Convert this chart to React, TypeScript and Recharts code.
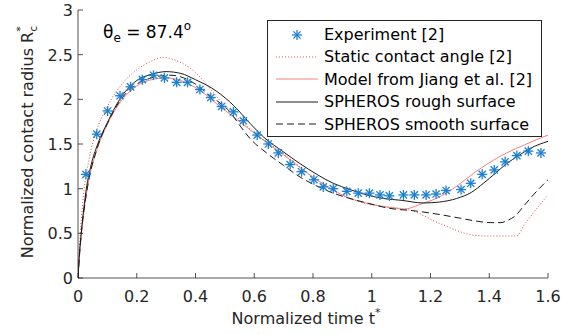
import React from 'react';
import { ComposedChart, Line, Scatter, XAxis, YAxis, Legend } from 'recharts';

const xTicks = [0, 0.2, 0.4, 0.6, 0.8, 1, 1.2, 1.4, 1.6];
const yTicks = [0, 0.5, 1, 1.5, 2, 2.5, 3];

const expT = [0.027, 0.064, 0.101, 0.143, 0.179, 0.219, 0.257, 0.294, 0.336, 0.373, 0.415, 0.452, 0.489, 0.529, 0.563, 0.61, 0.648, 0.682, 0.722, 0.761, 0.803, 0.835, 0.869, 0.915, 0.954, 0.992, 1.028, 1.06, 1.108, 1.145, 1.185, 1.219, 1.253, 1.304, 1.337, 1.376, 1.417, 1.454, 1.494, 1.533, 1.576];
const expR = [1.16, 1.61, 1.87, 2.04, 2.14, 2.22, 2.27, 2.24, 2.19, 2.19, 2.11, 2.02, 1.92, 1.86, 1.76, 1.6, 1.5, 1.4, 1.27, 1.19, 1.1, 1.02, 1.0, 0.97, 0.95, 0.95, 0.93, 0.92, 0.93, 0.93, 0.93, 0.94, 0.98, 0.99, 1.06, 1.16, 1.21, 1.3, 1.37, 1.42, 1.4];

const staticT = [0, 0.005, 0.015, 0.037, 0.06, 0.1, 0.157, 0.2, 0.245, 0.29, 0.33, 0.381, 0.43, 0.472, 0.529, 0.6, 0.7, 0.813, 0.926, 1.039, 1.096, 1.13, 1.232, 1.346, 1.4, 1.493, 1.52, 1.56, 1.6];
const staticR = [0, 0.35, 0.8, 1.32, 1.62, 1.92, 2.2, 2.33, 2.42, 2.47, 2.44, 2.35, 2.2, 2.03, 1.84, 1.63, 1.39, 1.1, 0.89, 0.8, 0.78, 0.76, 0.61, 0.48, 0.47, 0.47, 0.6, 0.77, 0.93];

const modelT = [0, 0.005, 0.01, 0.03, 0.066, 0.1, 0.14, 0.2, 0.25, 0.3, 0.35, 0.415, 0.483, 0.551, 0.608, 0.699, 0.813, 0.926, 0.98, 1.039, 1.085, 1.107, 1.17, 1.232, 1.29, 1.346, 1.4, 1.459, 1.52, 1.561, 1.6];
const modelR = [0, 0.25, 0.45, 0.97, 1.45, 1.72, 1.95, 2.15, 2.22, 2.24, 2.21, 2.1, 1.92, 1.75, 1.6, 1.38, 1.1, 0.89, 0.84, 0.8, 0.78, 0.77, 0.83, 0.91, 1.03, 1.17, 1.29, 1.4, 1.49, 1.55, 1.6];

const roughT = [0, 0.005, 0.011, 0.028, 0.045, 0.066, 0.1, 0.14, 0.2, 0.25, 0.3, 0.35, 0.4, 0.472, 0.53, 0.586, 0.631, 0.7, 0.756, 0.813, 0.869, 0.926, 0.983, 1.04, 1.1, 1.175, 1.23, 1.289, 1.34, 1.38, 1.42, 1.459, 1.5, 1.539, 1.6];
const roughR = [0, 0.28, 0.5, 0.99, 1.27, 1.49, 1.74, 1.99, 2.21, 2.28, 2.31, 2.29, 2.22, 2.09, 1.93, 1.73, 1.58, 1.41, 1.28, 1.16, 1.06, 0.99, 0.93, 0.89, 0.87, 0.84, 0.85, 0.89, 0.96, 1.06, 1.17, 1.28, 1.37, 1.45, 1.53];

const smoothT = [0, 0.005, 0.01, 0.03, 0.066, 0.1, 0.14, 0.2, 0.25, 0.313, 0.36, 0.4, 0.45, 0.517, 0.557, 0.586, 0.642, 0.7, 0.756, 0.813, 0.869, 0.926, 0.983, 1.06, 1.15, 1.232, 1.3, 1.35, 1.403, 1.44, 1.459, 1.49, 1.516, 1.55, 1.6];
const smoothR = [0, 0.25, 0.45, 0.97, 1.46, 1.73, 1.97, 2.17, 2.24, 2.27, 2.24, 2.17, 2.04, 1.86, 1.68, 1.56, 1.4, 1.26, 1.13, 1.03, 0.95, 0.89, 0.84, 0.78, 0.75, 0.71, 0.67, 0.64, 0.62, 0.62, 0.64, 0.7, 0.8, 0.93, 1.1];

const legendLabels = [
  'Experiment [2]',
  'Static contact angle [2]',
  'Model from Jiang et al. [2]',
  'SPHEROS rough surface',
  'SPHEROS smooth surface',
];

const zip = (ts: number[], rs: number[]) => ts.map((t, i) => ({ t, r: rs[i] }));

const expData = zip(expT, expR);
const staticData = zip(staticT, staticR);
const modelData = zip(modelT, modelR);
const roughData = zip(roughT, roughR);
const smoothData = zip(smoothT, smoothR);

const FONT = '"DejaVu Sans", sans-serif';
const AX = '#262626';
const BLUE = '#1a7fd0';
const STATIC_C = '#e24a4a';
const MODEL_C = '#f4807c';
const BLACK = '#1a1a1a';

const Asterisk = (props: any) => {
  const { cx, cy } = props;
  if (cx == null || cy == null) return null;
  const s = 5;
  const d = s * 0.72;
  return (
    <g stroke={BLUE} strokeWidth={1.3}>
      <line x1={cx - s} y1={cy} x2={cx + s} y2={cy} />
      <line x1={cx} y1={cy - s} x2={cx} y2={cy + s} />
      <line x1={cx - d} y1={cy - d} x2={cx + d} y2={cy + d} />
      <line x1={cx - d} y1={cy + d} x2={cx + d} y2={cy - d} />
    </g>
  );
};

const BottomTick = (props: any) => {
  const { x, y, payload } = props;
  return (
    <g>
      <line x1={x} y1={y} x2={x} y2={y - 5} stroke={AX} strokeWidth={0.8} />
      <text x={x} y={y + 24} textAnchor="middle" fontSize={16} fill={AX} fontFamily={FONT}>
        {String(payload.value)}
      </text>
    </g>
  );
};

const TopTick = (props: any) => {
  const { x, y } = props;
  return <line x1={x} y1={y} x2={x} y2={y + 5} stroke={AX} strokeWidth={0.8} />;
};

const LeftTick = (props: any) => {
  const { x, y, payload } = props;
  return (
    <g>
      <line x1={x} y1={y} x2={x + 5} y2={y} stroke={AX} strokeWidth={0.8} />
      <text x={x - 5} y={y + 6} textAnchor="end" fontSize={16} fill={AX} fontFamily={FONT}>
        {String(payload.value)}
      </text>
    </g>
  );
};

const RightTick = (props: any) => {
  const { x, y } = props;
  return <line x1={x} y1={y} x2={x - 5} y2={y} stroke={AX} strokeWidth={0.8} />;
};

const XLabel = () => (
  <text x={306} y={324} textAnchor="middle" fontSize={16} fill={AX} fontFamily={FONT}>
    Normalized time t
    <tspan fontSize={11} dy={-8}>*</tspan>
  </text>
);

const YLabel = () => (
  <text transform="rotate(-90)" x={-142} y={33} textAnchor="middle" fontSize={16} fill={AX} fontFamily={FONT}>
    Normalized contact radius R
    <tspan fontSize={11} dy={4}>c</tspan>
    <tspan fontSize={11} dx={-6} dy={-13}>*</tspan>
  </text>
);

const LegendSample = ({ i }: { i: number }) => {
  const y = 11;
  if (i === 0) {
    return (
      <svg width={48} height={22}>
        <Asterisk cx={23} cy={y} />
      </svg>
    );
  }
  const props: any = [
    null,
    { stroke: STATIC_C, strokeDasharray: '1 2' },
    { stroke: MODEL_C },
    { stroke: BLACK },
    { stroke: BLACK, strokeDasharray: '7 4' },
  ][i];
  return (
    <svg width={48} height={22}>
      <line x1={2} y1={y} x2={44} y2={y} strokeWidth={1} {...props} />
    </svg>
  );
};

const renderLegend = () => (
  <div
    style={{
      position: 'relative',
      width: 275,
      height: 117,
      border: `1px solid ${AX}`,
      background: '#fff',
      boxSizing: 'border-box',
      fontFamily: FONT,
      fontSize: 16,
      color: '#000',
    }}
  >
    {legendLabels.map((lab, i) => (
      <div
        key={lab}
        style={{
          position: 'absolute',
          left: 6,
          top: 2.5 + i * 22.4,
          height: 22,
          display: 'flex',
          alignItems: 'center',
          whiteSpace: 'nowrap',
        }}
      >
        <LegendSample i={i} />
        <span style={{ marginLeft: 2 }}>{lab}</span>
      </div>
    ))}
  </div>
);

export default function App() {
  return (
    <div style={{ position: 'absolute', left: 0, top: 0, width: 569, height: 334, background: '#fff' }}>
      <ComposedChart width={569} height={334} margin={{ top: 10, right: 21, left: 0, bottom: 0 }}>
        <XAxis
          xAxisId={0}
          dataKey="t"
          type="number"
          domain={[0, 1.6]}
          ticks={xTicks}
          allowDataOverflow
          height={56}
          tickSize={0}
          tickMargin={0}
          tickLine={false}
          axisLine={{ stroke: AX, strokeWidth: 0.8 }}
          tick={<BottomTick />}
          interval={0}
          label={<XLabel />}
        />
        <XAxis
          xAxisId="top"
          orientation="top"
          dataKey="t"
          type="number"
          domain={[0, 1.6]}
          ticks={xTicks}
          allowDataOverflow
          height={0}
          tickSize={0}
          tickMargin={0}
          tickLine={false}
          axisLine={{ stroke: AX, strokeWidth: 0.8 }}
          tick={<TopTick />}
          interval={0}
        />
        <YAxis
          yAxisId={0}
          type="number"
          domain={[0, 3]}
          ticks={yTicks}
          allowDataOverflow
          width={78}
          tickSize={0}
          tickMargin={0}
          tickLine={false}
          axisLine={{ stroke: AX, strokeWidth: 0.8 }}
          tick={<LeftTick />}
          interval={0}
          label={<YLabel />}
        />
        <YAxis
          yAxisId="right"
          orientation="right"
          type="number"
          domain={[0, 3]}
          ticks={yTicks}
          allowDataOverflow
          width={0}
          tickSize={0}
          tickMargin={0}
          tickLine={false}
          axisLine={{ stroke: AX, strokeWidth: 0.8 }}
          tick={<RightTick />}
          interval={0}
        />
        <Scatter data={expData} dataKey="r" shape={<Asterisk />} isAnimationActive={false} />
        <Line data={staticData} dataKey="r" type="monotone" stroke={STATIC_C} strokeWidth={1} strokeDasharray="1 2" dot={false} activeDot={false} isAnimationActive={false} />
        <Line data={modelData} dataKey="r" type="monotone" stroke={MODEL_C} strokeWidth={1} dot={false} activeDot={false} isAnimationActive={false} />
        <Line data={roughData} dataKey="r" type="monotone" stroke={BLACK} strokeWidth={1} dot={false} activeDot={false} isAnimationActive={false} />
        <Line data={smoothData} dataKey="r" type="monotone" stroke={BLACK} strokeWidth={1} strokeDasharray="7 4" dot={false} activeDot={false} isAnimationActive={false} />
        <Legend
          layout="vertical"
          align="center"
          verticalAlign="middle"
          content={renderLegend}
          wrapperStyle={{ left: 267, top: 20, width: 275, height: 117 }}
        />
      </ComposedChart>
      <svg width={569} height={334} style={{ position: 'absolute', left: 0, top: 0, pointerEvents: 'none' }}>
        <text x={103} y={38} fontSize={17} fill="#000" fontFamily={FONT}>
          θ
          <tspan fontSize={12} dy={4}>e</tspan>
          <tspan dy={-4}> = 87.4</tspan>
          <tspan fontSize={12} dy={-8}>o</tspan>
        </text>
      </svg>
    </div>
  );
}
